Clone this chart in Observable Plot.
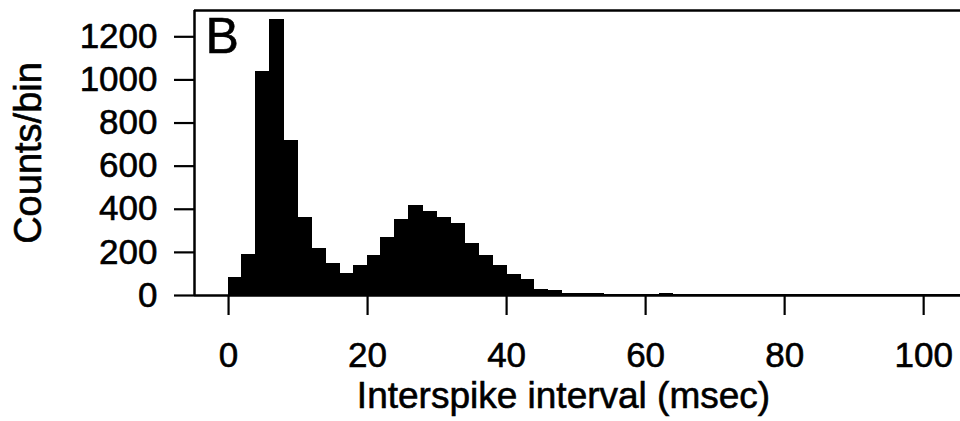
<!DOCTYPE html>
<html>
<head>
<meta charset="utf-8">
<script src="https://cdn.jsdelivr.net/npm/d3@7"></script>
<script src="https://cdn.jsdelivr.net/npm/@observablehq/plot@0.6"></script>
<style>
  html, body { margin: 0; padding: 0; background: white; }
  #chart svg text { stroke: black; stroke-width: 0.6px; }
</style>
</head>
<body>
<div id="chart"></div>
<script>
// Histogram of interspike intervals, 2 msec bins
const binStart = [0, 2, 4, 6, 8, 10, 12, 14, 16, 18, 20, 22, 24, 26, 28, 30, 32, 34, 36, 38,
                  40, 42, 44, 46, 48, 50, 52, 54, 56, 58, 60, 62, 64, 66, 68, 70, 72, 74, 76, 78,
                  80, 82, 84, 86, 88, 90, 92, 94, 96, 98, 100, 102, 104];
const binEnd   = [2, 4, 6, 8, 10, 12, 14, 16, 18, 20, 22, 24, 26, 28, 30, 32, 34, 36, 38, 40,
                  42, 44, 46, 48, 50, 52, 54, 56, 58, 60, 62, 64, 66, 68, 70, 72, 74, 76, 78, 80,
                  82, 84, 86, 88, 90, 92, 94, 96, 98, 100, 102, 104, 106];
const counts   = [80, 190, 1035, 1280, 715, 360, 215, 147, 100, 135, 182, 266, 351, 414, 387, 360, 333, 240, 181, 135,
                  93, 70, 26, 20, 8, 6, 5, 4, 3, 3, 4, 5, 3, 3, 2, 3, 2, 2, 2, 3,
                  2, 2, 1, 1, 1, 1, 1, 1, 1, 1, 1, 1, 1];
const xTicks = [0, 20, 40, 60, 80, 100];
const yTicks = [0, 200, 400, 600, 800, 1000, 1200];
const xLabel = "Interspike interval (msec)";
const yLabel = "Counts/bin";
const panelLabel = "B";

const data = binStart.map((s, i) => ({start: s, end: binEnd[i], count: counts[i]}));

const xMin = -4.9, xMax = 105.3, yMax = 1322;
const font = "'Liberation Sans', Arial, Helvetica, sans-serif";

const chart = Plot.plot({
  width: 960,
  height: 421,
  marginLeft: 194,
  marginRight: 0,
  marginTop: 10,
  marginBottom: 126,
  style: {fontFamily: font, fontSize: "35px", color: "black", background: "white", overflow: "visible"},
  x: {domain: [xMin, xMax]},
  y: {domain: [0, yMax]},
  marks: [
    Plot.rectY(data, {x1: "start", x2: "end", y: "count", fill: "black", stroke: "black",
                      strokeWidth: 1, inset: 0, shapeRendering: "crispEdges"}),
    Plot.ruleY([0], {stroke: "black", strokeWidth: 2.5}),
    Plot.ruleY([yMax], {stroke: "black", strokeWidth: 2.5}),
    Plot.ruleX([xMin], {stroke: "black", strokeWidth: 2.5}),
    Plot.axisY({ticks: yTicks, tickFormat: "d", tickSize: 20, tickPadding: 17, strokeWidth: 2.2,
                label: null, fontSize: 35, fill: "black"}),
    Plot.axisX({ticks: xTicks, tickFormat: "d", tickSize: 20, tickPadding: 27, strokeWidth: 2.2,
                label: null, fontSize: 35, fill: "black"}),
    Plot.text([yLabel], {frameAnchor: "left", dx: -166, rotate: -90, fontSize: 38, fill: "black",
                         textAnchor: "middle", lineAnchor: "middle"}),
    Plot.text([xLabel], {frameAnchor: "bottom", dx: -14, dy: 101, fontSize: 37, fill: "black",
                         textAnchor: "middle", lineAnchor: "middle"}),
    Plot.text([panelLabel], {frameAnchor: "top-left", dx: 11, dy: 7, fontSize: 50, fill: "black",
                             textAnchor: "start", lineAnchor: "top"})
  ]
});
document.getElementById("chart").appendChild(chart);
</script>
</body>
</html>
